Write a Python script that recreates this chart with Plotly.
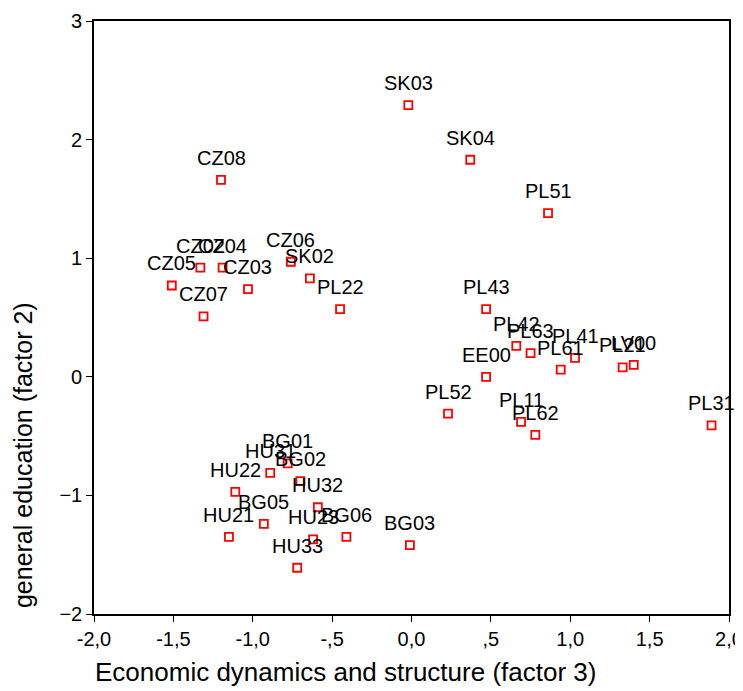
import plotly.graph_objects as go

regions = ["SK03", "SK04", "PL51", "CZ08",
           "CZ02", "CZ04", "CZ06", "CZ05", "CZ03", "SK02", "CZ07", "PL22",
           "PL43", "PL42", "PL63", "PL61", "PL41", "PL21", "LV00", "EE00",
           "PL52", "PL11", "PL62", "PL31",
           "BG01", "HU31", "BG02", "HU22", "HU32", "BG05", "HU21", "HU23",
           "BG06", "HU33", "BG03"]
factor3 = [-0.02, 0.37, 0.86, -1.20,
           -1.33, -1.19, -0.76, -1.51, -1.03, -0.64, -1.31, -0.45,
           0.47, 0.66, 0.75, 0.94, 1.03, 1.33, 1.40, 0.47,
           0.23, 0.69, 0.78, 1.89,
           -0.78, -0.89, -0.70, -1.11, -0.59, -0.93, -1.15, -0.62,
           -0.41, -0.72, -0.01]
factor2 = [2.29, 1.83, 1.38, 1.66,
           0.92, 0.92, 0.97, 0.77, 0.74, 0.83, 0.51, 0.57,
           0.57, 0.26, 0.20, 0.06, 0.16, 0.08, 0.10, 0.00,
           -0.31, -0.38, -0.49, -0.41,
           -0.73, -0.81, -0.88, -0.97, -1.10, -1.24, -1.35, -1.37,
           -1.35, -1.61, -1.42]

xtick_vals = [-2.0, -1.5, -1.0, -0.5, 0.0, 0.5, 1.0, 1.5, 2.0]
xtick_text = ["-2,0", "-1,5", "-1,0", "-,5", "0,0", ",5", "1,0", "1,5", "2,0"]
ytick_vals = [-2, -1, 0, 1, 2, 3]

x_title = "Economic dynamics and structure (factor 3)"
y_title = "general education (factor 2)"

font_family = "Liberation Sans, Arial, sans-serif"

fig = go.Figure()
fig.add_trace(go.Scatter(
    x=factor3, y=factor2, mode="markers",
    marker=dict(symbol="square-open", size=8, color="#ff0000",
                line=dict(width=1.8, color="#ff0000")),
    cliponaxis=False, showlegend=False,
))

for name, xv, yv in zip(regions, factor3, factor2):
    fig.add_annotation(
        x=xv, y=yv, text=name, showarrow=False,
        xanchor="center", yanchor="middle", yshift=22,
        font=dict(family=font_family, size=20, color="black"),
    )

# axis titles (placed off-centre as in the reference)
fig.add_annotation(
    text=x_title, xref="paper", yref="paper", x=0.396, y=0,
    xanchor="center", yanchor="middle", yshift=-58, showarrow=False,
    font=dict(family=font_family, size=26, color="black"),
)
fig.add_annotation(
    text=y_title, xref="paper", yref="paper", x=0, y=0.268,
    xanchor="center", yanchor="middle", xshift=-71, textangle=-90,
    showarrow=False,
    font=dict(family=font_family, size=25, color="black"),
)

fig.update_layout(
    width=735, height=683,
    margin=dict(l=85.5, r=14, t=13, b=77),
    paper_bgcolor="white", plot_bgcolor="white",
    font=dict(family=font_family, color="black"),
)
fig.update_xaxes(
    range=[-2.0, 2.0], tickvals=xtick_vals, ticktext=xtick_text,
    automargin=False,
    showgrid=False, zeroline=False,
    showline=True, linecolor="black", linewidth=1.6, mirror=True,
    ticks="outside", ticklen=6, tickcolor="black", tickwidth=1.2,
    tickfont=dict(size=20, family=font_family),
)
fig.update_yaxes(
    range=[-2, 3], tickvals=ytick_vals,
    automargin=False,
    showgrid=False, zeroline=False,
    showline=True, linecolor="black", linewidth=1.6, mirror=True,
    ticks="outside", ticklen=6, tickcolor="black", tickwidth=1.2,
    tickfont=dict(size=20, family=font_family),
)

fig.write_html("out.html")
